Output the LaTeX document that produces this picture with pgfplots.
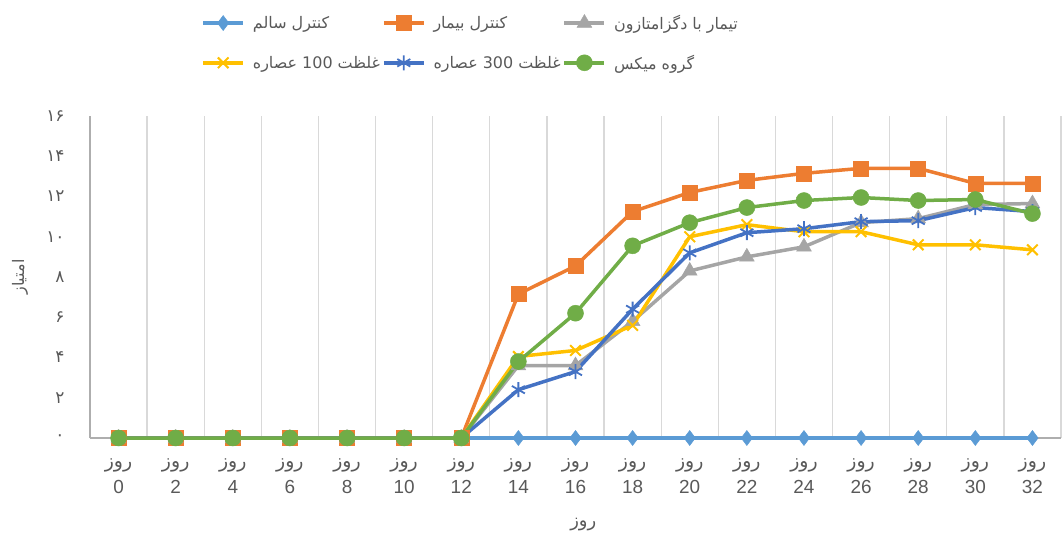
\documentclass[border=0pt]{standalone}
\usepackage{pgfplots}
\pgfplotsset{compat=1.18}
\usepackage{fontspec}
\setmainfont{Liberation Sans}
\newfontfamily\arabicfont[Script=Arabic]{DejaVu Sans}
\TeXXeTstate=1
\newcommand{\fa}[1]{{\arabicfont\beginR #1\endR}}
\definecolor{cA}{HTML}{5B9BD5}
\definecolor{cB}{HTML}{ED7D31}
\definecolor{cC}{HTML}{A5A5A5}
\definecolor{cD}{HTML}{FFC000}
\definecolor{cE}{HTML}{4472C4}
\definecolor{cF}{HTML}{70AD47}
\definecolor{gridc}{HTML}{D9D9D9}
\definecolor{txt}{HTML}{595959}
\begin{document}
\begin{tikzpicture}
\useasboundingbox (-90bp,-102bp) rectangle (974bp,438bp);
\begin{axis}[
  scale only axis, width=971bp, height=322bp,
  at={(0,0)}, anchor=south west,
  xmin=-0.5, xmax=16.5, ymin=0, ymax=16,
  clip=false,
  xtick={0,...,16},
  xticklabels={{\fa{روز}\\0},{\fa{روز}\\2},{\fa{روز}\\4},{\fa{روز}\\6},{\fa{روز}\\8},{\fa{روز}\\10},{\fa{روز}\\12},{\fa{روز}\\14},{\fa{روز}\\16},{\fa{روز}\\18},{\fa{روز}\\20},{\fa{روز}\\22},{\fa{روز}\\24},{\fa{روز}\\26},{\fa{روز}\\28},{\fa{روز}\\30},{\fa{روز}\\32}},
  xticklabel style={align=center, font=\fontsize{19}{26}\selectfont, text=txt, yshift=-17bp},
  minor xtick={-0.5,0.5,...,16.5},
  xminorgrids,
  minor grid style={color=gridc, line width=1.3bp},
  ytick={0,2,...,16},
  yticklabels={{\arabicfont ۰},{\arabicfont ۲},{\arabicfont ۴},{\arabicfont ۶},{\arabicfont ۸},{\arabicfont ۱۰},{\arabicfont ۱۲},{\arabicfont ۱۴},{\arabicfont ۱۶}},
  yticklabel style={font=\fontsize{17}{19}\selectfont, text=txt, xshift=-22bp},
  major tick length=0pt, minor tick length=0pt,
  axis x line*=bottom, axis y line*=left,
  axis line style={color=gridc!80!black, line width=1.2bp},
  xlabel={\fa{روز}},
  xlabel style={at={(rel axis cs:0.508,-0.268)}, anchor=center, font=\fontsize{18}{20}\selectfont, text=txt},
  ylabel={\fa{امتیاز}},
  ylabel style={at={(rel axis cs:-0.072,0.5)}, anchor=center, font=\fontsize{16}{18}\selectfont, text=txt},
  every axis plot/.append style={line width=3.5bp},
  legend columns=3,
  legend style={at={(rel axis cs:0.392,1.227)}, anchor=center, draw=none, fill=none,
    font=\fontsize{16}{19}\selectfont, text=txt, row sep=20bp,
    /tikz/every odd column/.append style={column sep=6bp},
    /tikz/every even column/.append style={column sep=0bp}},
  legend cell align=left,
  legend image code/.code={\draw[mark repeat=2,mark phase=2,#1] plot coordinates {(0bp,0bp) (20bp,0bp) (40bp,0bp)};},
]
\addplot[color=cA, mark=diamond*, mark size=7.5bp, mark options={solid, fill=cA, line width=0.5bp}] coordinates {
(0,0) (1,0) (2,0) (3,0) (4,0) (5,0) (6,0) (7,0) (8,0) (9,0) (10,0) (11,0) (12,0) (13,0) (14,0) (15,0) (16,0)};
\addlegendentry{\fa{کنترل سالم}}
\addplot[color=cB, mark=square*, mark size=7.5bp, mark options={solid, fill=cB, line width=0.5bp}] coordinates {
(0,0) (1,0) (2,0) (3,0) (4,0) (5,0) (6,0) (7,7.15) (8,8.55) (9,11.25) (10,12.2) (11,12.8) (12,13.15) (13,13.4) (14,13.4) (15,12.65) (16,12.65)};
\addlegendentry{\fa{کنترل بیمار}}
\addplot[color=cC, mark=triangle*, mark size=8.5bp, mark options={solid, fill=cC, line width=0.5bp}] coordinates {
(0,0) (1,0) (2,0) (3,0) (4,0) (5,0) (6,0) (7,3.6) (8,3.6) (9,5.8) (10,8.3) (11,9.0) (12,9.5) (13,10.7) (14,10.9) (15,11.6) (16,11.65)};
\addlegendentry{\fa{تیمار با دگزامتازون}}
\addplot[color=cD, mark=x, mark size=7.5bp, mark options={solid, line width=2bp}] coordinates {
(0,0) (1,0) (2,0) (3,0) (4,0) (5,0) (6,0) (7,4.05) (8,4.35) (9,5.6) (10,10.0) (11,10.6) (12,10.25) (13,10.25) (14,9.6) (15,9.6) (16,9.35)};
\addlegendentry{\fa{غلظت \beginL100\endL{} عصاره}}
\addplot[color=cE, mark=asterisk, mark size=7.5bp, mark options={solid, line width=1.8bp}] coordinates {
(0,0) (1,0) (2,0) (3,0) (4,0) (5,0) (6,0) (7,2.4) (8,3.3) (9,6.4) (10,9.2) (11,10.2) (12,10.4) (13,10.75) (14,10.8) (15,11.45) (16,11.25)};
\addlegendentry{\fa{غلظت \beginL300\endL{} عصاره}}
\addplot[color=cF, mark=*, mark size=8bp, mark options={solid, fill=cF, line width=0.5bp}] coordinates {
(0,0) (1,0) (2,0) (3,0) (4,0) (5,0) (6,0) (7,3.8) (8,6.2) (9,9.55) (10,10.7) (11,11.45) (12,11.8) (13,11.95) (14,11.8) (15,11.85) (16,11.15)};
\addlegendentry{\fa{گروه میکس}}
\end{axis}
\end{tikzpicture}
\end{document}
